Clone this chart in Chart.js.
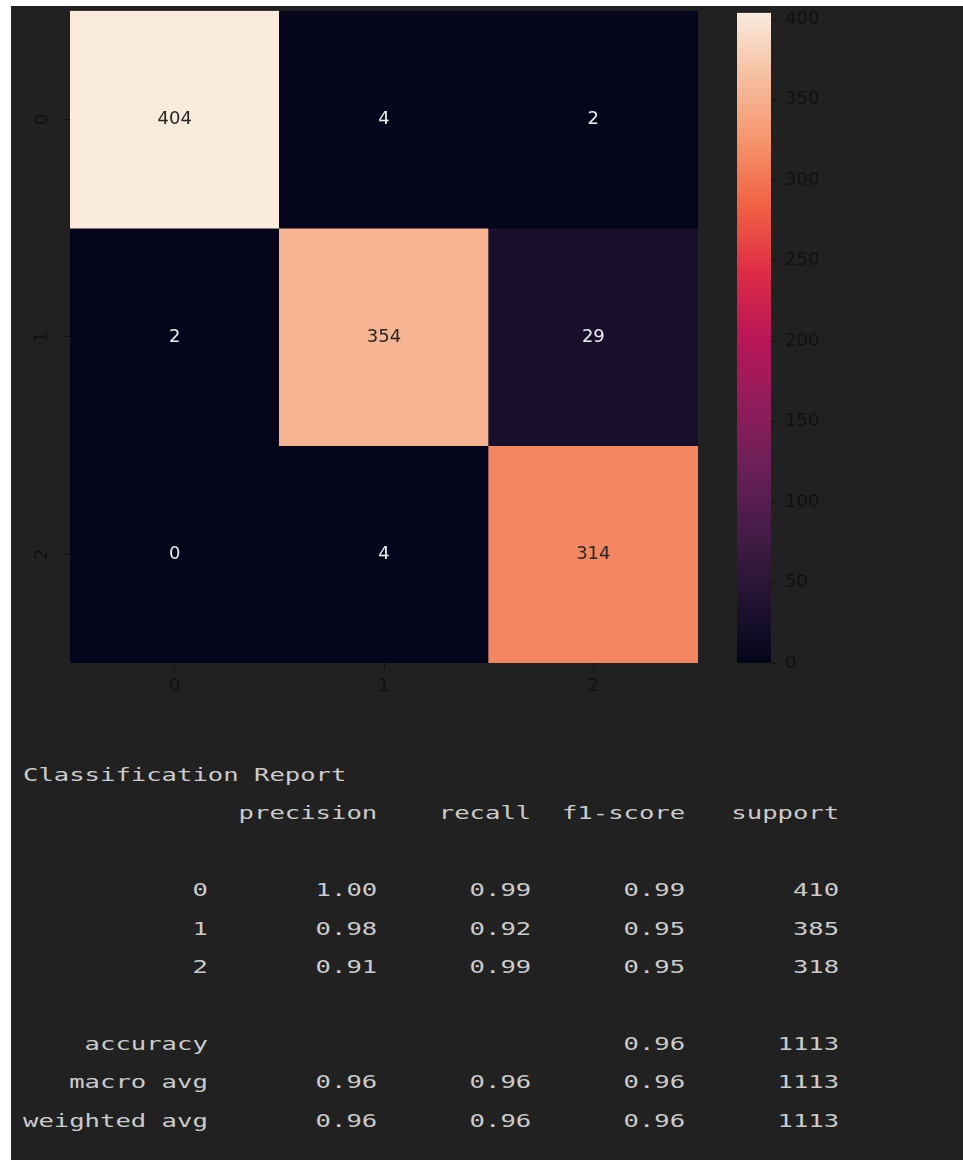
<!DOCTYPE html>
<html>
<head>
<meta charset="utf-8">
<script src="https://cdn.jsdelivr.net/npm/chart.js@4.4.1/dist/chart.umd.min.js"></script>
<style>
    html, body { margin: 0; padding: 0; background: #ffffff; }
    body { width: 963px; height: 1160px; position: relative; overflow: hidden; }
    #panel { position: absolute; left: 11px; top: 6px; width: 952px; height: 1154px; background: #212121; }
    #heatWrap { position: absolute; left: 0; top: -16px; width: 730px; height: 736px; }
    #barWrap { position: absolute; left: 700px; top: -6px; width: 160px; height: 706px; }
    #report {
        position: absolute; left: 23px; top: 756px; margin: 0;
        font-family: "DejaVu Sans Mono", monospace; font-size: 18px; line-height: 38.4px;
        color: #cccccc; transform: scaleX(1.421); transform-origin: left top; white-space: pre;
    }
</style>
</head>
<body>
<div id="panel"></div>
<div id="heatWrap"><canvas id="heatChart" width="730" height="736"></canvas></div>
<div id="barWrap"><canvas id="colorBar" width="160" height="706"></canvas></div>
<pre id="report"></pre>
<script>
// Confusion matrix data
const classLabels = ['0', '1', '2'];
const row0 = [404, 4, 2];
const row1 = [2, 354, 29];
const row2 = [0, 4, 314];
const matrix = [row0, row1, row2];
const colorbarTicks = [0, 50, 100, 150, 200, 250, 300, 350, 400];

// Classification report data
const precision = [1.00, 0.98, 0.91];
const recall = [0.99, 0.92, 0.99];
const f1Score = [0.99, 0.95, 0.95];
const support = [410, 385, 318];
const accuracy = 0.96;
const macroAvg = [0.96, 0.96, 0.96];
const weightedAvg = [0.96, 0.96, 0.96];
const totalSupport = 1113;

// seaborn "rocket" colormap stops
const rocketStops = ['#03051a', '#221331', '#451c47', '#6a1f56', '#921c5b', '#b91657',
                     '#dd2c45', '#f06043', '#f5936a', '#f6be9f', '#faebdd'];

function hexToRgb(h) {
    return [parseInt(h.slice(1, 3), 16), parseInt(h.slice(3, 5), 16), parseInt(h.slice(5, 7), 16)];
}

function rocket(t) {
    t = Math.max(0, Math.min(1, t));
    const pos = t * (rocketStops.length - 1);
    const i = Math.min(Math.floor(pos), rocketStops.length - 2);
    const f = pos - i;
    const a = hexToRgb(rocketStops[i]);
    const b = hexToRgb(rocketStops[i + 1]);
    const c = a.map((v, k) => Math.round(v + (b[k] - v) * f));
    return `rgb(${c[0]}, ${c[1]}, ${c[2]})`;
}

const allValues = matrix.flat();
const vmin = Math.min(...allValues);
const vmax = Math.max(...allValues);
const norm = v => (vmax - vmin) ? (v - vmin) / (vmax - vmin) : 0;

// One floating-bar dataset per matrix row
const heatDatasets = matrix.map((row, r) => ({
    label: 'row ' + classLabels[r],
    data: row.map(() => [r, r + 1]),
    backgroundColor: row.map(v => rocket(norm(v))),
    borderWidth: 0,
    grouped: false,
    barPercentage: 1,
    categoryPercentage: 1
}));

// Draw numbers in each cell (dark text on the light end of the colormap)
const annotatePlugin = {
    id: 'annotate',
    afterDatasetsDraw(chart) {
        const ctx = chart.ctx;
        ctx.save();
        ctx.font = '18px "DejaVu Sans"';
        ctx.textAlign = 'center';
        ctx.textBaseline = 'middle';
        matrix.forEach((row, i) => {
            chart.getDatasetMeta(i).data.forEach((bar, j) => {
                ctx.fillStyle = norm(row[j]) > 0.6 ? '#262626' : '#ececf0';
                ctx.fillText(String(row[j]), bar.x, (bar.y + bar.base) / 2);
            });
        });
        ctx.restore();
    }
};

const tickColor = '#111111';

new Chart(document.getElementById('heatChart').getContext('2d'), {
    type: 'bar',
    data: { labels: classLabels, datasets: heatDatasets },
    options: {
        responsive: false,
        animation: false,
        events: [],
        layout: { autoPadding: false, padding: { left: 0, top: 12, right: 32, bottom: 0 } },
        plugins: { legend: { display: false }, tooltip: { enabled: false } },
        scales: {
            x: {
                offset: true,
                border: { display: false },
                grid: { offset: false, drawOnChartArea: false, tickLength: 6, tickColor: tickColor },
                ticks: { color: tickColor, font: { family: 'DejaVu Sans', size: 18 }, padding: 7, maxRotation: 0 },
                afterFit: s => { s.height = 57; }
            },
            y: {
                min: 0,
                max: matrix.length,
                reverse: true,
                border: { display: false },
                grid: { drawOnChartArea: false, tickLength: 6, tickColor: tickColor },
                afterBuildTicks: s => { s.ticks = classLabels.map((_, i) => ({ value: i + 0.5 })); },
                ticks: {
                    color: tickColor,
                    font: { family: 'DejaVu Sans', size: 18 },
                    minRotation: 90,
                    maxRotation: 90,
                    crossAlign: 'center',
                    padding: 16,
                    callback: (v, i) => classLabels[i]
                },
                afterFit: s => { s.width = 70; }
            }
        }
    },
    plugins: [annotatePlugin]
});

// Colorbar as a single floating bar with a gradient fill
function colorbarFill(context) {
    const area = context.chart.chartArea;
    if (!area) return rocketStops[0];
    const g = context.chart.ctx.createLinearGradient(0, area.bottom, 0, area.top);
    rocketStops.forEach((c, i) => g.addColorStop(i / (rocketStops.length - 1), c));
    return g;
}

new Chart(document.getElementById('colorBar').getContext('2d'), {
    type: 'bar',
    data: {
        labels: ['scale'],
        datasets: [{
            data: [[vmin, vmax]],
            backgroundColor: colorbarFill,
            borderWidth: 0,
            barPercentage: 1,
            categoryPercentage: 1
        }]
    },
    options: {
        responsive: false,
        animation: false,
        events: [],
        layout: { autoPadding: false, padding: { left: 37, top: 12, right: 0, bottom: 37 } },
        plugins: { legend: { display: false }, tooltip: { enabled: false } },
        scales: {
            x: { display: false },
            y: {
                position: 'right',
                min: vmin,
                max: vmax,
                border: { display: false },
                grid: { drawOnChartArea: false, tickLength: 6, tickColor: tickColor },
                afterBuildTicks: s => { s.ticks = colorbarTicks.map(v => ({ value: v })); },
                ticks: { color: tickColor, font: { family: 'DejaVu Sans', size: 18 }, padding: 8 },
                afterFit: s => { s.width = 89; }
            }
        }
    }
});

// Classification report text, sklearn layout
function fmt(v) { return v.toFixed(2).padStart(9); }
const labelWidth = 12;
const lines = [];
lines.push('Classification Report');
lines.push(''.padStart(labelWidth) + ' ' + ['precision', 'recall', 'f1-score', 'support'].map(h => ' ' + h.padStart(9)).join(''));
lines.push('');
classLabels.forEach((c, i) => {
    lines.push(c.padStart(labelWidth) + ' ' + ' ' + fmt(precision[i]) + ' ' + fmt(recall[i]) + ' ' + fmt(f1Score[i]) + ' ' + String(support[i]).padStart(9));
});
lines.push('');
lines.push('accuracy'.padStart(labelWidth) + ' ' + ' '.repeat(20) + ' ' + fmt(accuracy) + ' ' + String(totalSupport).padStart(9));
lines.push('macro avg'.padStart(labelWidth) + ' ' + macroAvg.map(v => ' ' + fmt(v)).join('') + ' ' + String(totalSupport).padStart(9));
lines.push('weighted avg'.padStart(labelWidth) + ' ' + weightedAvg.map(v => ' ' + fmt(v)).join('') + ' ' + String(totalSupport).padStart(9));
document.getElementById('report').textContent = lines.join('\n');
</script>
</body>
</html>
